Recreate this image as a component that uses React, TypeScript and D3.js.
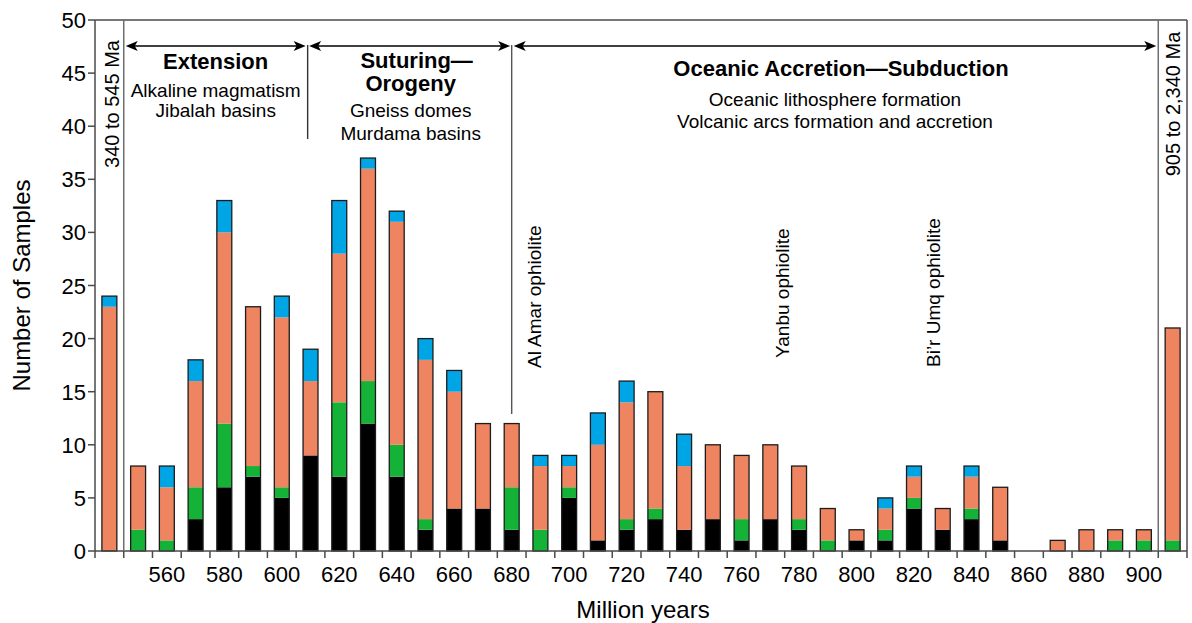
import React, { useEffect, useRef } from 'react'
import * as d3 from 'd3'

// age bins, first and last are the lumped ranges
const categories = ['340-545', '550', '560', '570', '580', '590', '600', '610', '620', '630', '640', '650', '660', '670', '680', '690', '700', '710', '720', '730', '740', '750', '760', '770', '780', '790', '800', '810', '820', '830', '840', '850', '860', '870', '880', '890', '900', '905-2340']
const blackVals = [0, 0, 0, 3, 6, 7, 5, 9, 7, 12, 7, 2, 4, 4, 2, 0, 5, 1, 2, 3, 2, 3, 1, 3, 2, 0, 1, 1, 4, 2, 3, 1, 0, 0, 0, 0, 0, 0]
const greenVals = [0, 2, 1, 3, 6, 1, 1, 0, 7, 4, 3, 1, 0, 0, 4, 2, 1, 0, 1, 1, 0, 0, 2, 0, 1, 1, 0, 1, 1, 0, 1, 0, 0, 0, 0, 1, 1, 1]
const orangeVals = [23, 6, 5, 10, 18, 15, 16, 7, 14, 20, 21, 15, 11, 8, 6, 6, 2, 9, 11, 11, 6, 7, 6, 7, 5, 3, 1, 2, 2, 2, 3, 5, 0, 1, 2, 1, 1, 20]
const blueVals = [1, 0, 2, 2, 3, 0, 2, 3, 5, 1, 1, 2, 2, 0, 0, 1, 1, 3, 2, 0, 3, 0, 0, 0, 0, 0, 0, 1, 1, 0, 1, 0, 0, 0, 0, 0, 0, 0]
const xTickLabels = ['560', '580', '600', '620', '640', '660', '680', '700', '720', '740', '760', '780', '800', '820', '840', '860', '880', '900']
const yTicks = [0, 5, 10, 15, 20, 25, 30, 35, 40, 45, 50]

const FONT = '"Liberation Sans", Arial, Helvetica, sans-serif'

const App = () => {
    const svgRef = useRef<SVGSVGElement>(null)

    useEffect(() => {
        const svg = d3.select(svgRef.current)
        svg.selectAll('*').remove()

        var left = 95, right = 1187, top = 20, bottom = 551

        const x = d3.scaleBand().domain(categories).range([left, right]).paddingInner(0.48).paddingOuter(0.24)
        const y = d3.scaleLinear().domain([0, 50]).range([bottom, top])
        const step = x.step()
        // age -> x for the annotation lines
        const age = d3.scaleLinear().domain([550, 900])
            .range([x('550')! + x.bandwidth() / 2, x('900')! + x.bandwidth() / 2])

        const table = categories.map((c, i) => ({
            cat: c, black: blackVals[i], green: greenVals[i], orange: orangeVals[i], blue: blueVals[i]
        }))
        const keys = ['black', 'green', 'orange', 'blue']
        const colors: any = { black: '#000000', green: '#14B237', orange: '#EF8560', blue: '#00A5E6' }
        const stacked = d3.stack<any>().keys(keys)(table)

        const frame = '#4a4a4a'

        // bars
        stacked.forEach(layer => {
            svg.append('g').selectAll('rect')
                .data(layer)
                .enter()
                .append('rect')
                .attr('x', (d: any) => x(d.data.cat)!)
                .attr('y', d => y(d[1]))
                .attr('width', x.bandwidth())
                .attr('height', d => y(d[0]) - y(d[1]))
                .attr('fill', colors[layer.key])
        })
        svg.append('g').selectAll('rect')
            .data(table.filter(d => d.black + d.green + d.orange + d.blue > 0))
            .enter()
            .append('rect')
            .attr('x', d => x(d.cat)!)
            .attr('y', d => y(d.black + d.green + d.orange + d.blue))
            .attr('width', x.bandwidth())
            .attr('height', d => y(0) - y(d.black + d.green + d.orange + d.blue))
            .attr('fill', 'none')
            .attr('stroke', '#1c1c1c')
            .attr('stroke-width', 1.3)

        // frame
        svg.append('line').attr('x1', left).attr('x2', right).attr('y1', top).attr('y2', top)
            .attr('stroke', frame).attr('stroke-width', 1.5)
        svg.append('line').attr('x1', right).attr('x2', right).attr('y1', top).attr('y2', bottom)
            .attr('stroke', frame).attr('stroke-width', 1.5)

        // y axis
        const yAxis = svg.append('g')
        yAxis.append('line').attr('x1', left).attr('x2', left).attr('y1', top).attr('y2', bottom)
            .attr('stroke', frame).attr('stroke-width', 1.5)
        yTicks.forEach(t => {
            yAxis.append('line').attr('x1', left - 7).attr('x2', left).attr('y1', y(t)).attr('y2', y(t))
                .attr('stroke', frame).attr('stroke-width', 1.5)
            yAxis.append('text').attr('x', left - 9).attr('y', y(t) + 8)
                .attr('text-anchor', 'end').attr('font-size', 22).attr('font-family', FONT)
                .text(t)
        })

        // x axis: ticks at the band edges, labels under the bars
        const xAxis = svg.append('g')
        xAxis.append('line').attr('x1', left).attr('x2', right).attr('y1', bottom).attr('y2', bottom)
            .attr('stroke', frame).attr('stroke-width', 1.5)
        d3.range(categories.length + 1).forEach(k => {
            const tx = left + k * step
            xAxis.append('line').attr('x1', tx).attr('x2', tx).attr('y1', bottom).attr('y2', bottom + 7)
                .attr('stroke', frame).attr('stroke-width', 1.5)
        })
        xTickLabels.forEach(l => {
            xAxis.append('text').attr('x', x(l)! + x.bandwidth() / 2).attr('y', 582)
                .attr('text-anchor', 'middle').attr('font-size', 22).attr('font-family', FONT)
                .text(l)
        })

        svg.append('text').attr('x', (left + right) / 2 + 2).attr('y', 618)
            .attr('text-anchor', 'middle').attr('font-size', 24).attr('font-family', FONT)
            .text('Million years')
        svg.append('text').attr('transform', 'translate(30,' + (top + bottom) / 2 + ') rotate(-90)')
            .attr('text-anchor', 'middle').attr('font-size', 24).attr('font-family', FONT)
            .text('Number of Samples')

        // dividers for the lumped bins
        const d1 = left + step, d2 = left + step * (categories.length - 1)
        ;[d1, d2].forEach(dx => {
            svg.append('line').attr('x1', dx).attr('x2', dx).attr('y1', top).attr('y2', bottom)
                .attr('stroke', '#6e6e6e').attr('stroke-width', 1.5)
        })
        svg.append('text').attr('transform', 'translate(' + (d1 - 5) + ',104) rotate(-90)')
            .attr('text-anchor', 'middle').attr('font-size', 20).attr('font-family', FONT)
            .text('340 to 545 Ma')
        svg.append('text').attr('transform', 'translate(' + (right - 7) + ',104) rotate(-90)')
            .attr('text-anchor', 'middle').attr('font-size', 20).attr('font-family', FONT)
            .text('905 to 2,340 Ma')

        // period boundaries
        const b1 = age(609), b2 = age(680)
        svg.append('line').attr('x1', b1).attr('x2', b1).attr('y1', 45).attr('y2', 139)
            .attr('stroke', '#333').attr('stroke-width', 1.4)
        svg.append('line').attr('x1', b2).attr('x2', b2).attr('y1', 45).attr('y2', 414)
            .attr('stroke', '#555').attr('stroke-width', 1.4)

        // double arrows
        const arrowY = 46
        const arrow = (x1: number, x2: number) => {
            svg.append('line').attr('x1', x1 + 4).attr('x2', x2 - 4).attr('y1', arrowY).attr('y2', arrowY)
                .attr('stroke', '#000').attr('stroke-width', 1.5)
            svg.append('path')
                .attr('d', `M${x1},${arrowY} L${x1 + 12},${arrowY - 5} L${x1 + 9},${arrowY} L${x1 + 12},${arrowY + 5} Z`)
                .attr('fill', '#000')
            svg.append('path')
                .attr('d', `M${x2},${arrowY} L${x2 - 12},${arrowY - 5} L${x2 - 9},${arrowY} L${x2 - 12},${arrowY + 5} Z`)
                .attr('fill', '#000')
        }
        arrow(d1 + 2, b1 - 2)
        arrow(b1 + 1.5, b2 - 1.5)
        arrow(b2 + 2, d2 - 2)

        const label = (tx: number, ty: number, s: string, bold: boolean, size: number) => {
            svg.append('text').attr('x', tx).attr('y', ty)
                .attr('text-anchor', 'middle').attr('font-size', size).attr('font-family', FONT)
                .attr('font-weight', bold ? 'bold' : 'normal')
                .text(s)
        }
        const c1 = (d1 + b1) / 2, c2 = (b1 + b2) / 2, c3 = 838
        label(c1, 69, 'Extension', true, 22)
        label(c1, 97, 'Alkaline magmatism', false, 19)
        label(c1, 117, 'Jibalah basins', false, 19)
        label(c2 + 7, 68, 'Suturing\u2014', true, 22)
        label(c2 + 1, 91, 'Orogeny', true, 22)
        label(c2 + 1, 117, 'Gneiss domes', false, 19)
        label(c2 + 1, 140, 'Murdama basins', false, 19)
        label(c3 + 3, 76, 'Oceanic Accretion\u2014Subduction', true, 22)
        label(c3 - 3, 106, 'Oceanic lithosphere formation', false, 19)
        label(c3 - 3, 128, 'Volcanic arcs formation and accretion', false, 19)

        // ophiolites
        const oph = (ax: number, by: number, s: string) => {
            svg.append('text').attr('transform', 'translate(' + ax + ',' + by + ') rotate(-90)')
                .attr('text-anchor', 'start').attr('font-size', 19).attr('font-family', FONT)
                .text(s)
        }
        oph(age(690) + 1, 368, 'Al Amar ophiolite')
        oph(age(780) - 10, 358, 'Yanbu ophiolite')
        oph(age(830) - 3, 367, 'Bi\u2019r Umq ophiolite')
    }, [])

    return (
        <div style={{ position: 'absolute', left: 0, top: 0 }}>
            <svg ref={svgRef} width={1192} height={623} style={{ display: 'block', background: '#fff' }}></svg>
        </div>
    )
}

export default App
